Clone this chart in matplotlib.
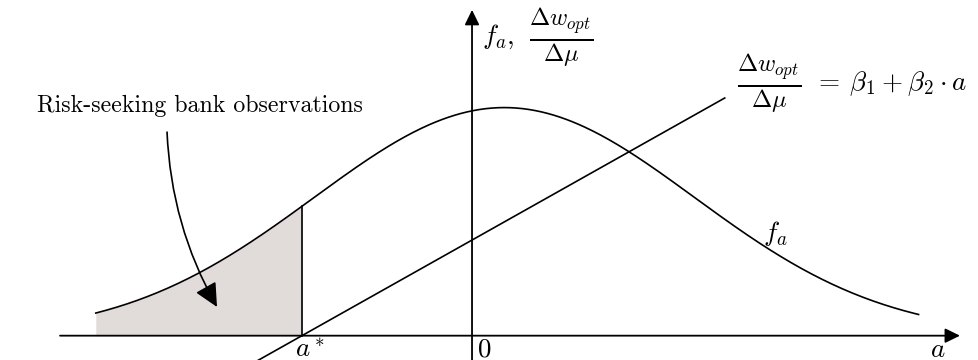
import numpy as np
import matplotlib
matplotlib.use("Agg")
import matplotlib.pyplot as plt

# density f_a (normal shape, in axis units)
mu = 0.17
peak = 1.20
sigma = 1.0
a_lo, a_hi = -1.98, 2.35

# regression line dw/dmu = beta1 + beta2 * a
beta1 = 0.503
beta2 = 0.562
line_lo, line_hi = -1.35, 1.33

a_star = -beta1 / beta2

plt.rcParams['mathtext.fontset'] = 'cm'
plt.rcParams['axes.unicode_minus'] = False

fig = plt.figure(figsize=(9.79, 3.6), dpi=100)
ax = fig.add_axes([0, 0, 1, 1])
ax.set_xlim(-2.484, 2.668)
ax.set_ylim(-0.128, 1.766)
ax.axis('off')

a = np.linspace(a_lo, a_hi, 400)
f = peak * np.exp(-0.5 * ((a - mu) / sigma) ** 2)

# shaded tail left of a*
m = a <= a_star
a_fill = np.append(a[m], a_star)
f_fill = np.append(f[m], peak * np.exp(-0.5 * ((a_star - mu) / sigma) ** 2))
ax.fill_between(a_fill, 0, f_fill, color='#e1dcda', lw=0)
ax.plot(a, f, color='black', lw=1.2)
ax.plot([a_star, a_star], [0, f_fill[-1]], color='black', lw=1.2)

al = np.array([line_lo, line_hi])
ax.plot(al, beta1 + beta2 * al, color='black', lw=1.2)

# axes with arrows
ax.annotate('', xy=(2.568, 0), xytext=(-2.168, 0),
            arrowprops=dict(arrowstyle='-|>,head_length=0.45,head_width=0.22',
                            color='black', lw=1.3,
                            mutation_scale=20, shrinkA=0, shrinkB=0))
ax.annotate('', xy=(0, 1.714), xytext=(0, -0.2),
            arrowprops=dict(arrowstyle='-|>,head_length=0.45,head_width=0.22',
                            color='black', lw=1.3,
                            mutation_scale=20, shrinkA=0, shrinkB=0))

fs = 17.2
mfs = 19.5
ffs = 25
frac = r'$\frac{\mathit{\Delta} w_{opt}}{\mathit{\Delta} \mu}$'

ax.text(-2.289, 1.177, 'Risk-seeking bank observations', fontsize=fs,
        family='cmr10', va='baseline', ha='left')
ax.annotate('', xy=(-1.342, 0.151), xytext=(-1.605, 1.071),
            arrowprops=dict(arrowstyle='-|>,head_length=0.45,head_width=0.22',
                            color='black', lw=1.2,
                            mutation_scale=32, shrinkA=0, shrinkB=0,
                            connectionstyle='arc3,rad=0.12'))

# y-axis label
ax.text(0.053, 1.535, r'$f_a,$', fontsize=mfs, va='baseline', ha='left')
ax.text(0.300, 1.573, frac, fontsize=ffs, va='center', ha='left')

# line label
ax.text(1.395, 1.329, frac, fontsize=ffs, va='center', ha='left')
ax.text(1.80, 1.293, r'$=\:\beta_1\:+\:\beta_2\cdot a$',
        fontsize=mfs, va='baseline', ha='left')

ax.text(1.53, 0.54, r'$f_a$', fontsize=mfs, va='center', ha='left')
ax.text(2.41, -0.11, r'$a$', fontsize=mfs, va='baseline', ha='left')
ax.text(-0.93, -0.11, r'$a^*$', fontsize=mfs, va='baseline', ha='left')
ax.text(0.026, -0.11, r'$0$', fontsize=mfs, va='baseline', ha='left')

fig.savefig('out.png', dpi=100)
